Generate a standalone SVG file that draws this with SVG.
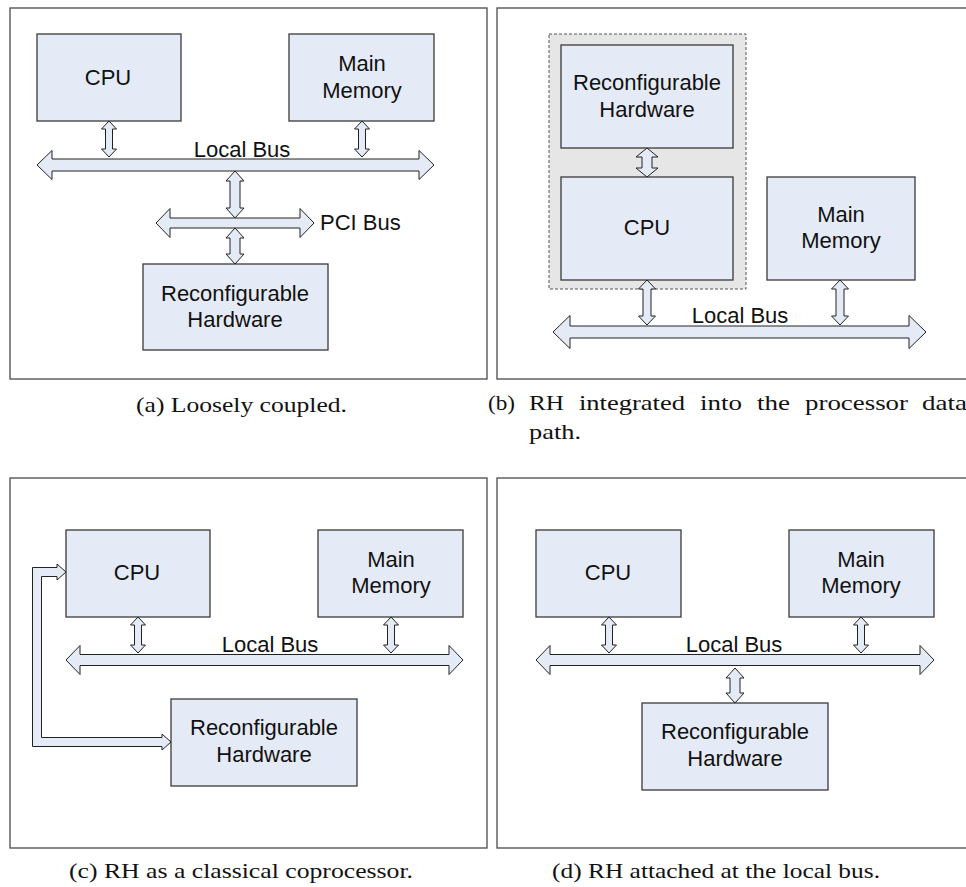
<svg xmlns="http://www.w3.org/2000/svg" width="966" height="887" viewBox="0 0 966 887">
<style>
.frame{fill:#fff;stroke:#4a4a4a;stroke-width:1.3}
.box{fill:#e5ebf6;stroke:#3a3a3a;stroke-width:1.3}
.grp{fill:#e6e6e6;stroke:#555;stroke-width:1;stroke-dasharray:3 2}
.arr{fill:#e5ebf6;stroke:#222;stroke-width:1;stroke-linejoin:miter}
.t{font-family:"Liberation Sans",Arial,sans-serif;font-size:22px;fill:#111;text-anchor:middle}
.ts{font-family:"Liberation Sans",Arial,sans-serif;font-size:22px;fill:#111}
.cap{font-family:"Liberation Serif","Times New Roman",serif;font-size:22px;fill:#111}
</style>
<rect width="966" height="887" fill="#fff"/>
<!-- frames -->
<g id="frames">
<rect class="frame" x="10" y="8" width="477" height="371"/>
<rect class="frame" x="497" y="8" width="490" height="371"/>
<rect class="frame" x="10" y="478" width="477" height="370"/>
<rect class="frame" x="497" y="478" width="490" height="370"/>
</g>
<rect id="b-group" class="grp" x="549" y="34" width="197" height="255"/>
<!-- Panel a -->
<g id="a-cpu"><rect class="box" x="37" y="34" width="144" height="87"/><text class="t" x="108" y="85">CPU</text></g>
<g id="a-mem"><rect class="box" x="289" y="34" width="145" height="87"/><text class="t" x="362" y="71">Main</text><text class="t" x="362" y="98">Memory</text></g>
<g id="a-rh"><rect class="box" x="143" y="264" width="185" height="86"/><text class="t" x="235" y="301">Reconfigurable</text><text class="t" x="235" y="327">Hardware</text></g>
<!-- Panel b -->
<g id="b-rh"><rect class="box" x="561" y="45" width="172" height="103"/><text class="t" x="647" y="90">Reconfigurable</text><text class="t" x="647" y="117">Hardware</text></g>
<g id="b-cpu"><rect class="box" x="561" y="177" width="172" height="103"/><text class="t" x="647" y="235">CPU</text></g>
<g id="b-mem"><rect class="box" x="767" y="177" width="148" height="103"/><text class="t" x="841" y="222">Main</text><text class="t" x="841" y="248">Memory</text></g>
<!-- Panel c -->
<g id="c-cpu"><rect class="box" x="66" y="530" width="144" height="87"/><text class="t" x="137" y="580">CPU</text></g>
<g id="c-mem"><rect class="box" x="318" y="530" width="145" height="87"/><text class="t" x="391" y="567">Main</text><text class="t" x="391" y="593">Memory</text></g>
<g id="c-rh"><rect class="box" x="171" y="699" width="186" height="87"/><text class="t" x="264" y="735">Reconfigurable</text><text class="t" x="264" y="762">Hardware</text></g>
<!-- Panel d -->
<g id="d-cpu"><rect class="box" x="536" y="530" width="145" height="87"/><text class="t" x="608" y="580">CPU</text></g>
<g id="d-mem"><rect class="box" x="789" y="530" width="145" height="87"/><text class="t" x="861" y="567">Main</text><text class="t" x="861" y="593">Memory</text></g>
<g id="d-rh"><rect class="box" x="642" y="703" width="186" height="87"/><text class="t" x="735" y="739">Reconfigurable</text><text class="t" x="735" y="766">Hardware</text></g>
<!-- connectors -->
<g id="connectors">
<!-- a -->
<path class="arr" d="M37,165 L52,150.5 L52,159 L419,159 L419,150.5 L434,165 L419,179.5 L419,171 L52,171 L52,179.5 Z"/>
<path class="arr" d="M156,223 L170,208.5 L170,218 L300,218 L300,208.5 L314,223 L300,237.5 L300,228 L170,228 L170,237.5 Z"/>
<path class="arr" d="M109,121 L116.5,129 L112.5,129 L112.5,149 L116.5,149 L109,157 L101.5,149 L105.5,149 L105.5,129 L101.5,129 Z"/>
<path class="arr" d="M362,121 L369.5,129 L365.5,129 L365.5,149 L369.5,149 L362,157 L354.5,149 L358.5,149 L358.5,129 L354.5,129 Z"/>
<path class="arr" d="M235,171 L244,181 L240,181 L240,208 L244,208 L235,218 L226,208 L230,208 L230,181 L226,181 Z"/>
<path class="arr" d="M235,228 L244,238 L240,238 L240,254 L244,254 L235,264 L226,254 L230,254 L230,238 L226,238 Z"/>
<!-- b -->
<path class="arr" d="M553,332 L570,315.5 L570,326 L909,326 L909,315.5 L926,332 L909,348.5 L909,338 L570,338 L570,348.5 Z"/>
<path class="arr" d="M647,148 L658,157 L652,157 L652,168 L658,168 L647,177 L636,168 L642,168 L642,157 L636,157 Z"/>
<path class="arr" d="M647,280 L655.5,289 L651,289 L651,316 L655.5,316 L647,325 L638.5,316 L643,316 L643,289 L638.5,289 Z"/>
<path class="arr" d="M840,280 L848.5,289 L844,289 L844,316 L848.5,316 L840,325 L831.5,316 L836,316 L836,289 L831.5,289 Z"/>
<!-- c -->
<path class="arr" d="M66,660 L80,645.5 L80,654.5 L449,654.5 L449,645.5 L463,660 L449,674.5 L449,665.5 L80,665.5 L80,674.5 Z"/>
<path class="arr" d="M138,617 L145.5,625 L141.5,625 L141.5,645 L145.5,645 L138,653 L130.5,645 L134.5,645 L134.5,625 L130.5,625 Z"/>
<path class="arr" d="M391,617 L398.5,625 L394.5,625 L394.5,645 L398.5,645 L391,653 L383.5,645 L387.5,645 L387.5,625 L383.5,625 Z"/>
<path class="arr" d="M66,572 L57,564 L57,567.5 L32.5,567.5 L32.5,746.5 L162,746.5 L162,750 L171,742 L162,734 L162,737.5 L41.5,737.5 L41.5,576.5 L57,576.5 L57,580 Z"/>
<!-- d -->
<path class="arr" d="M536,660 L550,645.5 L550,654.5 L920,654.5 L920,645.5 L934,660 L920,674.5 L920,665.5 L550,665.5 L550,674.5 Z"/>
<path class="arr" d="M609,617 L616.5,625 L612.5,625 L612.5,645 L616.5,645 L609,653 L601.5,645 L605.5,645 L605.5,625 L601.5,625 Z"/>
<path class="arr" d="M861,617 L868.5,625 L864.5,625 L864.5,645 L868.5,645 L861,653 L853.5,645 L857.5,645 L857.5,625 L853.5,625 Z"/>
<path class="arr" d="M735,668 L744,678 L740,678 L740,693 L744,693 L735,703 L726,693 L730,693 L730,678 L726,678 Z"/>
</g>
<!-- bus labels -->
<g id="labels">
<text class="t" x="242" y="157">Local Bus</text>
<text class="ts" x="320" y="230">PCI Bus</text>
<text class="t" x="740" y="323">Local Bus</text>
<text class="t" x="270" y="652">Local Bus</text>
<text class="t" x="734" y="652">Local Bus</text>
</g>
<!-- captions -->
<g id="captions">
<text class="cap" x="136" y="412" textLength="211" lengthAdjust="spacingAndGlyphs">(a) Loosely coupled.</text>
<text class="cap" x="488" y="410" textLength="27" lengthAdjust="spacingAndGlyphs">(b)</text>
<text class="cap" x="529" y="410" textLength="35" lengthAdjust="spacingAndGlyphs">RH</text>
<text class="cap" x="579" y="410" textLength="106" lengthAdjust="spacingAndGlyphs">integrated</text>
<text class="cap" x="700" y="410" textLength="42" lengthAdjust="spacingAndGlyphs">into</text>
<text class="cap" x="757" y="410" textLength="33" lengthAdjust="spacingAndGlyphs">the</text>
<text class="cap" x="805" y="410" textLength="103" lengthAdjust="spacingAndGlyphs">processor</text>
<text class="cap" x="922" y="410" textLength="54" lengthAdjust="spacingAndGlyphs">data-</text>
<text class="cap" x="529" y="439" textLength="52" lengthAdjust="spacingAndGlyphs">path.</text>
<text class="cap" x="69" y="878" textLength="344" lengthAdjust="spacingAndGlyphs">(c) RH as a classical coprocessor.</text>
<text class="cap" x="552" y="878" textLength="328" lengthAdjust="spacingAndGlyphs">(d) RH attached at the local bus.</text>
</g>
</svg>
